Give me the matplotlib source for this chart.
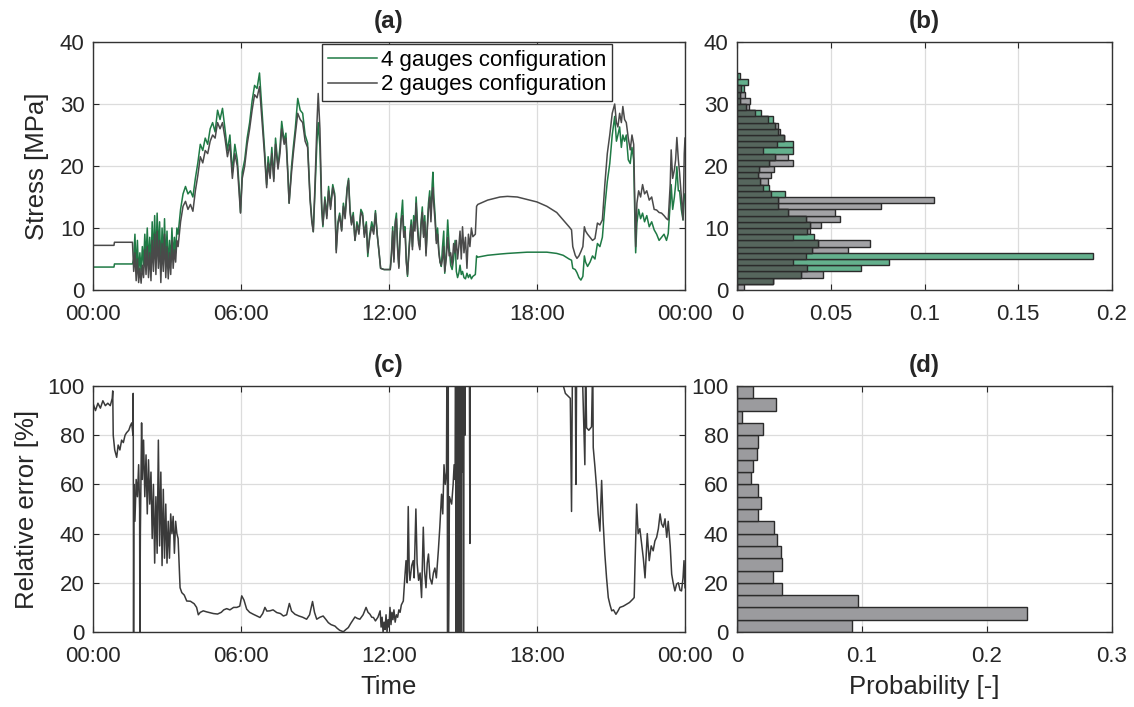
import numpy as np
import matplotlib
matplotlib.use("Agg")
import matplotlib.pyplot as plt

# ---------------- data ----------------
# (a) stress time series, hours
t_a = [0.0, 0.85, 0.87, 1.6,
       1.65, 1.70, 1.75, 1.80, 1.85, 1.90, 1.95, 2.00, 2.05, 2.10, 2.15, 2.20, 2.25, 2.30, 2.35, 2.40,
       2.45, 2.50, 2.55, 2.60, 2.65, 2.70, 2.75, 2.80, 2.85, 2.90, 2.95, 3.00, 3.05, 3.10, 3.15, 3.20,
       3.25, 3.30, 3.35, 3.40, 3.45,
       3.55, 3.65, 3.75, 3.85, 3.95, 4.05, 4.15, 4.25, 4.35, 4.45, 4.55, 4.65, 4.75, 4.85, 4.95, 5.05,
       5.15, 5.25, 5.35, 5.45, 5.55, 5.65, 5.75, 5.85, 5.92, 5.98, 6.05, 6.15, 6.25, 6.35, 6.45, 6.55,
       6.65, 6.75, 6.85, 6.95, 7.04, 7.10, 7.18, 7.25, 7.33, 7.40, 7.50, 7.58, 7.65, 7.75, 7.82, 7.90,
       7.95, 8.05, 8.12, 8.20, 8.30, 8.40, 8.50, 8.60, 8.70, 8.80, 8.87, 8.93, 9.00, 9.08, 9.13, 9.20,
       9.27, 9.32, 9.40, 9.48, 9.55, 9.63, 9.72, 9.80, 9.86, 9.93, 10.00, 10.08, 10.15, 10.22, 10.30,
       10.36, 10.42, 10.48, 10.55, 10.62, 10.70, 10.78, 10.86, 10.93, 11.00, 11.08, 11.14, 11.22, 11.30,
       11.38, 11.45, 11.52, 11.60, 11.66, 11.80, 12.05,
       12.10, 12.15, 12.20, 12.25, 12.30, 12.35, 12.40, 12.45, 12.50, 12.55, 12.60, 12.65, 12.70, 12.75,
       12.80, 12.85, 12.90, 12.95, 13.00, 13.05, 13.10, 13.15, 13.20, 13.25, 13.30, 13.35, 13.40, 13.45,
       13.50, 13.55, 13.60, 13.65, 13.70, 13.75, 13.78, 13.82, 13.87, 13.92, 13.97, 14.02, 14.07, 14.12,
       14.17, 14.22, 14.26, 14.32, 14.38, 14.44, 14.50, 14.56, 14.62, 14.68, 14.73, 14.78, 14.83, 14.88,
       14.93, 14.98, 15.04, 15.10, 15.16, 15.22, 15.28, 15.34, 15.40, 15.50, 15.55, 15.60,
       16.0, 16.5, 16.8, 17.2, 17.6, 18.0, 18.4, 18.8, 19.06, 19.30, 19.40, 19.45, 19.55, 19.62, 19.70,
       19.78, 19.86, 19.92, 19.97, 20.05, 20.15, 20.25, 20.35, 20.45, 20.55, 20.65, 20.75, 20.85, 20.95,
       21.05, 21.15, 21.22, 21.28, 21.35, 21.42, 21.48, 21.55, 21.62, 21.70, 21.78, 21.85, 21.92, 21.97,
       22.00, 22.05, 22.12, 22.20, 22.28, 22.36, 22.45, 22.55, 22.65, 22.75, 22.85, 22.95, 23.05, 23.15,
       23.25, 23.32, 23.40, 23.44, 23.50, 23.57, 23.62, 23.67, 23.73, 23.78, 23.85, 23.92, 23.97, 24.00]

stress_4g = [3.7, 3.7, 4.2, 4.2,
             5, 9, 3, 8, 2.5, 6, 3, 7, 4, 9, 5, 10, 4, 8.5, 3.5, 11,
             5, 12, 4.5, 12.4, 6, 11, 3, 10, 5, 11.5, 4, 9.5, 3.5, 8, 4.5, 10,
             5, 8.5, 6, 10, 9,
             13, 15.5, 16.7, 15.5, 16, 15, 18, 20.5, 23.5, 22.5, 24.5, 23.5, 26, 27, 25.5, 29,
             27.5, 29.3, 26, 22.5, 25, 19, 23.5, 21, 17, 12.5, 19, 21, 24.5, 27, 30.5, 33,
             32.5, 35, 29, 23, 17, 21.5, 19, 23, 18, 24.5, 20, 23, 27.2, 24, 25.3, 19,
             14, 20, 23, 26, 30.9, 29, 28.5, 25, 23.7, 15, 11.5, 9.4, 16, 24, 27, 23,
             13, 10.2, 15, 12, 16.7, 13.5, 17, 15.5, 6.5, 11, 12.4, 9.7, 14, 12, 16.5,
             18, 13, 10.8, 12.5, 8, 11, 9.5, 13, 12.4, 9, 11, 5.4, 9, 11,
             9.5, 12.8, 9.1, 6, 3.5, 3.3, 3.3,
             6, 10.2, 5, 11, 12.4, 7, 3.8, 9, 12, 14.5, 9, 10.2, 5, 2.2,
             6, 9, 11.3, 7, 12, 10, 15, 11, 8, 7, 11, 13.4, 9, 12,
             6, 10, 14, 16, 12, 17, 19, 15, 12, 8, 10, 6.4, 4.5, 3.8,
             7, 9.5, 2.7, 6, 11.3, 7, 4, 3.3, 5, 8, 3, 2, 2.7, 4,
             2.5, 3, 2, 1.8, 2.7, 2, 2.5, 1.8, 2.2, 2.5, 5.5, 5.3,
             5.6, 5.8, 5.9, 6.0, 6.1, 6.1, 6.1, 5.9, 5.6, 5.0, 4.8, 3.5, 3.3, 2.8, 2.0,
             1.6, 2.2, 5.5, 4.5, 3.8, 4.5, 5.5, 5, 7.5, 7, 8.5, 13.4, 17.5, 20.4,
             25, 28, 24, 25, 26.3, 23, 25, 24, 25, 21, 20.4, 23, 21, 11,
             6, 10.8, 13, 11.5, 12.4, 11, 12, 10.2, 11, 9.7, 9, 8, 8.5, 9,
             8, 9.1, 14, 17, 13, 15, 17, 19.9, 16, 16, 13, 11.3, 15, 15.5]

stress_2g = [7.2, 7.2, 7.7, 7.7,
             3, 6, 1.5, 5, 1.2, 3.5, 1.1, 4, 2, 6.5, 2.5, 7, 2, 6, 1.5, 8,
             3, 9, 2.5, 9.5, 3.5, 8, 1.2, 7.5, 3, 9, 2, 7, 1.8, 6, 2.5, 8,
             3.5, 6.5, 4.5, 8, 7,
             11, 13.5, 14.3, 13, 13.8, 12.7, 16, 18.5, 21.5, 20.5, 22.5, 22, 24, 25, 24.5, 27,
             26, 27, 24.5, 21.5, 23.5, 18, 22, 20, 16, 12.4, 18, 20, 23.5, 26, 29, 31.5,
             31, 32.8, 27.5, 22, 16.5, 20.5, 18, 22, 17.5, 23.5, 19.5, 22, 26, 23.5, 24.5, 18.5,
             14, 19, 22, 25, 28.5, 27.5, 27, 24, 23, 14.5, 11, 9.4, 17, 27, 31.7, 26,
             14, 10.5, 14.5, 11.5, 16, 13, 16.5, 15, 6, 10.5, 12, 9.5, 13.5, 11.5, 16,
             17.7, 12.5, 10.5, 12, 8, 10.5, 9, 12.5, 12, 8.5, 10.5, 6, 8.5, 10.2,
             9, 12.4, 9, 6, 3.5, 3.3, 3.3,
             5.5, 9.5, 4.5, 10.5, 11.5, 6.5, 3.5, 8.5, 11.5, 12, 8.5, 9.5, 4.5, 2.5,
             5.5, 8.5, 10.5, 6.5, 11, 9.5, 14, 10, 7.5, 6.5, 10.5, 12.5, 8.5, 11,
             5.5, 9.5, 13, 15, 11, 15.5, 16.5, 13.5, 11, 7.5, 9, 6, 4.5, 4,
             5, 7, 3, 5, 8.5, 5.5, 6, 4, 7.5, 6, 8, 5, 7, 9.5,
             5, 10.2, 6, 8.5, 3.5, 9, 7, 10, 8.6, 9, 13.5, 13.8,
             14.5, 15.0, 15.1, 15.0, 14.6, 14.2, 13.5, 12.5, 11.3, 10.2, 9.7, 7, 5.6, 5.1, 5.5,
             6.2, 7, 10.2, 9.5, 9, 8.5, 8, 8.3, 10.8, 10.5, 11.3, 17, 22, 25,
             28.5, 30, 27, 26.3, 28.5, 27, 29.6, 27.5, 27, 24.5, 22.6, 25, 23.5, 13,
             7, 14, 16, 15, 17, 15.5, 16, 14.5, 15, 13, 12.9, 12.5, 12.4, 12,
             11.5, 11.3, 17, 22.6, 18, 19.4, 21, 24.6, 21, 18.9, 15, 11.3, 22, 24.5]

# (b) stress histograms, 1 MPa bins starting at 0
stress_bins = np.arange(0, 35)
prob_4g = [0.0, 0.019, 0.034, 0.066, 0.081, 0.1896, 0.040, 0.043, 0.041, 0.0375,
           0.039, 0.037, 0.027, 0.022, 0.022, 0.0255, 0.0173, 0.0125, 0.011, 0.0118,
           0.017, 0.0205, 0.030, 0.030, 0.025, 0.022, 0.020, 0.019, 0.013, 0.0048,
           0.0018, 0.0014, 0.0036, 0.006, 0.0014]
prob_2g = [0.0035, 0.019, 0.046, 0.0375, 0.030, 0.0366, 0.059, 0.071, 0.030, 0.039,
           0.045, 0.055, 0.052, 0.077, 0.105, 0.018, 0.014, 0.0166, 0.018, 0.0196,
           0.030, 0.027, 0.0138, 0.0214, 0.025, 0.023, 0.0216, 0.0164, 0.0095, 0.0063,
           0.0068, 0.0043, 0.002, 0.0, 0.0]

# (c) relative error time series
t_c = [0.0, 0.1, 0.2, 0.3, 0.4, 0.5, 0.6, 0.7, 0.78, 0.8, 0.82, 0.88, 0.96, 1.02, 1.09, 1.16, 1.23,
       1.3, 1.36, 1.45, 1.52, 1.57, 1.62, 1.63, 1.645, 1.66, 1.7, 1.75, 1.8, 1.85, 1.89, 1.90, 1.92,
       1.97, 2.0, 2.05, 2.1, 2.15, 2.2, 2.25, 2.3, 2.35, 2.4, 2.45, 2.5, 2.55, 2.6, 2.65, 2.7, 2.75,
       2.8, 2.85, 2.9, 2.95, 3.0, 3.05, 3.1, 3.15, 3.2, 3.25, 3.3, 3.35, 3.4, 3.45, 3.5, 3.53, 3.6,
       3.7, 3.8, 3.95, 4.1, 4.2, 4.27, 4.35, 4.47, 4.6, 4.75, 4.88, 5.05, 5.2, 5.3, 5.42, 5.55, 5.7,
       5.83, 5.95, 6.03, 6.12, 6.23, 6.35, 6.5, 6.65, 6.77, 6.88, 6.97, 7.05, 7.17, 7.3, 7.45, 7.6,
       7.72, 7.85, 7.96, 8.05, 8.19, 8.35, 8.5, 8.66, 8.78, 8.9, 8.98, 9.07, 9.2, 9.33, 9.45, 9.54,
       9.65, 9.81, 9.9, 10.0, 10.15, 10.25, 10.35, 10.45, 10.55, 10.62, 10.72, 10.82, 10.95, 11.07,
       11.15, 11.23, 11.3, 11.37, 11.45, 11.55, 11.64, 11.68, 11.72, 11.76, 11.8, 11.84, 11.88, 11.92,
       11.96, 12.0, 12.04, 12.08, 12.12, 12.16, 12.2, 12.25, 12.3, 12.35, 12.4, 12.45, 12.5, 12.58,
       12.64, 12.69, 12.74, 12.78, 12.82, 12.85, 12.92, 12.98, 13.02, 13.09, 13.14, 13.2, 13.26,
       13.32, 13.39, 13.44, 13.5, 13.55, 13.6, 13.66, 13.74, 13.8, 13.86, 13.92, 14.0, 14.06, 14.13,
       14.18, 14.23, 14.28, 14.33, 14.36, 14.37, 14.39, 14.40, 14.41, 14.45, 14.54, 14.6, 14.64,
       14.68, 14.7, 14.72, 14.75, 14.77, 14.79, 14.81, 14.83, 14.85, 14.87, 14.89, 14.91, 14.93,
       14.95, 14.97, 15.0, 15.02, 15.05, 15.08, 15.1, 15.15, 15.2, 15.25, 15.28, 15.3, 15.5, 16.5,
       18.0, 19.0, 19.07, 19.15, 19.25, 19.35, 19.4, 19.45, 19.55, 19.58, 19.62, 19.8, 19.94, 19.97,
       20.01, 20.1, 20.21, 20.26, 20.28, 20.35, 20.42, 20.48, 20.55, 20.62, 20.68, 20.75, 20.82,
       20.89, 20.96, 21.03, 21.1, 21.2, 21.28, 21.36, 21.5, 21.63, 21.75, 21.88, 21.94, 21.97, 22.04,
       22.1, 22.17, 22.24, 22.31, 22.38, 22.47, 22.55, 22.63, 22.71, 22.78, 22.85, 22.92, 22.99,
       23.05, 23.12, 23.19, 23.26, 23.32, 23.4, 23.46, 23.52, 23.59, 23.66, 23.73, 23.8, 23.86,
       23.92, 23.96, 24.0]
rel_error = [93, 90, 93, 91, 94, 92, 93, 92, 95, 98, 80, 74, 71, 76, 74, 78, 77,
             80, 81, 82, 84, 85, 80, 97, 0, 60, 45, 62, 55, 68, 50, 0, 40,
             85, 62, 78, 55, 72, 48, 70, 52, 65, 38, 60, 28, 55, 32, 78, 35, 65,
             27, 58, 30, 52, 28, 45, 30, 48, 40, 47, 32, 45, 40, 38, 25, 18, 16,
             15, 12.6, 12.5, 11.5, 10, 7, 8, 8.6, 8.2, 7.8, 7.5, 7.3, 8, 9, 9.5, 9, 10,
             10, 10.5, 14.7, 13, 9.3, 8, 7.2, 6.5, 5.9, 7.5, 10, 8.5, 8.6, 9, 7.9, 7.5,
             6.5, 7, 11.6, 8.5, 7.2, 6.5, 6, 5.2, 7, 12.4, 8, 5.2, 6, 6.5, 5, 3.8,
             3, 2.4, 1.5, 0.7, 0.1, 1, 1.8, 3.5, 5, 6.1, 5.5, 5.2, 7, 10,
             8, 7.2, 6, 5.9, 4.5, 6, 8.6, 2, 6, 0, 4, 1, 7, 0,
             5, 2, 10, 3, 8, 5, 9, 4, 7, 6, 9, 8, 11, 12.6,
             22, 29, 20, 51, 25, 21, 27, 29, 22, 50, 28, 21, 24,
             14, 42.6, 25, 18, 28, 31.7, 22, 19.5, 24, 26, 22, 33, 42.6, 56,
             48, 68, 60, 65, 140, 0, 0, 140, 0, 55, 52, 60, 68,
             62, 140, 0, 140, 60, 0, 140, 0, 140, 50, 0, 150, 0,
             140, 65, 150, 0, 145, 80, 150, 120, 150, 140, 36, 150, 160, 170,
             180, 120, 100, 97, 96, 95, 49, 130, 110, 60, 130, 120, 68, 110,
             83, 82, 83.4, 110, 75, 67, 58, 48, 41, 61.6, 45, 31.7, 22,
             14, 11, 8.6, 9, 7.2, 8.5, 10, 10.5, 11.3, 12, 13.3, 14, 26, 52,
             40, 42, 36, 30, 22, 40, 29, 35, 33, 37, 38.5, 42, 48,
             44, 42.6, 46, 38.5, 45, 35, 23.5, 20, 16.7, 19.5, 20, 17, 16.7,
             22, 29, 18]

# (d) relative error histogram, 5 % bins
err_bins = np.arange(0, 100, 5)
prob_err = [0.092, 0.232, 0.097, 0.036, 0.029, 0.0356, 0.035, 0.0316, 0.0297, 0.0168,
            0.019, 0.017, 0.011, 0.0128, 0.016, 0.0168, 0.021, 0.0037, 0.031, 0.0126]

hour_ticks = [0, 6, 12, 18, 24]
hour_labels = ["00:00", "06:00", "12:00", "18:00", "00:00"]

# ---------------- style ----------------
plt.rcParams['font.family'] = ['Liberation Sans', 'DejaVu Sans']
TICK_FS = 16
LABEL_FS = 18.5
TITLE_FS = 17.5
TXT = '#262626'
GRID = '#dcdcdc'
GREEN_LINE = '#1f7a45'
GRAY_LINE = '#4a4a4a'
GREEN_BAR = '#64b08d'
GRAY_BAR = '#a2a2a5'
DARK_BAR = '#56665d'
EDGE = '#2b2b2b'

W, H = 1134, 707
fig = plt.figure(figsize=(W / 100, H / 100), dpi=100)

def px_axes(l, t, r, b):
    return fig.add_axes([l / W, 1 - b / H, (r - l) / W, (b - t) / H])

def style(ax):
    ax.tick_params(direction='in', length=4, colors=TXT, labelcolor=TXT,
                   top=True, right=True, labelsize=TICK_FS, width=0.8)
    ax.tick_params(axis='x', pad=10)
    ax.tick_params(axis='y', pad=6)
    for s in ax.spines.values():
        s.set_color('#333333')
        s.set_linewidth(1.0)
    ax.grid(True, color=GRID, linewidth=0.9)
    ax.set_axisbelow(True)

ax_a = px_axes(93, 42, 685, 290)
ax_b = px_axes(737, 42, 1112, 290)
ax_c = px_axes(93, 386, 685, 632)
ax_d = px_axes(737, 386, 1112, 632)

# (a)
ax_a.plot(t_a, stress_4g, color=GREEN_LINE, lw=1.1, label='4 gauges configuration')
ax_a.plot(t_a, stress_2g, color=GRAY_LINE, lw=1.1, label='2 gauges configuration')
ax_a.set_xlim(0, 24)
ax_a.set_ylim(0, 40)
ax_a.set_xticks(hour_ticks)
ax_a.set_xticklabels(hour_labels)
ax_a.set_yticks([0, 10, 20, 30, 40])
ax_a.set_ylabel('Stress [MPa]', color=TXT, fontsize=LABEL_FS, labelpad=8)
ax_a.set_title('(a)', fontweight='bold', fontsize=TITLE_FS, color=TXT, pad=10)
style(ax_a)
leg = ax_a.legend(loc='upper right', bbox_to_anchor=(0.877, 0.99), frameon=True,
                  fancybox=False, edgecolor='#333333', framealpha=1, fontsize=16,
                  handlelength=2.2, handletextpad=0.2, borderpad=0.25, labelspacing=0.15,
                  borderaxespad=0.0)
leg.get_frame().set_linewidth(1.0)

# (b)
g = np.array(prob_4g)
k = np.array(prob_2g)
ax_b.barh(stress_bins, k, height=1.0, align='edge', color=GRAY_BAR, edgecolor=EDGE, linewidth=1.0)
ax_b.barh(stress_bins, g, height=1.0, align='edge', color=GREEN_BAR, edgecolor=EDGE, linewidth=1.0)
ax_b.barh(stress_bins, np.minimum(g, k), height=1.0, align='edge', color=DARK_BAR,
          edgecolor=EDGE, linewidth=1.0)
ax_b.set_xlim(0, 0.2)
ax_b.set_ylim(0, 40)
ax_b.set_xticks([0, 0.05, 0.1, 0.15, 0.2])
ax_b.set_xticklabels(['0', '0.05', '0.1', '0.15', '0.2'])
ax_b.set_yticks([0, 10, 20, 30, 40])
ax_b.set_title('(b)', fontweight='bold', fontsize=TITLE_FS, color=TXT, pad=10)
style(ax_b)

# (c)
ax_c.plot(t_c, rel_error, color='#3a3a3a', lw=1.1)
ax_c.set_xlim(0, 24)
ax_c.set_ylim(0, 100)
ax_c.set_xticks(hour_ticks)
ax_c.set_xticklabels(hour_labels)
ax_c.set_yticks([0, 20, 40, 60, 80, 100])
ax_c.set_xlabel('Time', color=TXT, fontsize=LABEL_FS, labelpad=6)
ax_c.set_ylabel('Relative error [%]', color=TXT, fontsize=LABEL_FS, labelpad=6)
ax_c.set_title('(c)', fontweight='bold', fontsize=TITLE_FS, color=TXT, pad=10)
style(ax_c)

# (d)
ax_d.barh(err_bins, prob_err, height=5.0, align='edge', color='#9b9b9e', edgecolor=EDGE, linewidth=1.0)
ax_d.set_xlim(0, 0.3)
ax_d.set_ylim(0, 100)
ax_d.set_xticks([0, 0.1, 0.2, 0.3])
ax_d.set_xticklabels(['0', '0.1', '0.2', '0.3'])
ax_d.set_yticks([0, 20, 40, 60, 80, 100])
ax_d.set_xlabel('Probability [-]', color=TXT, fontsize=LABEL_FS, labelpad=6)
ax_d.set_title('(d)', fontweight='bold', fontsize=TITLE_FS, color=TXT, pad=10)
style(ax_d)

fig.savefig('out.png', dpi=100, facecolor='white')
